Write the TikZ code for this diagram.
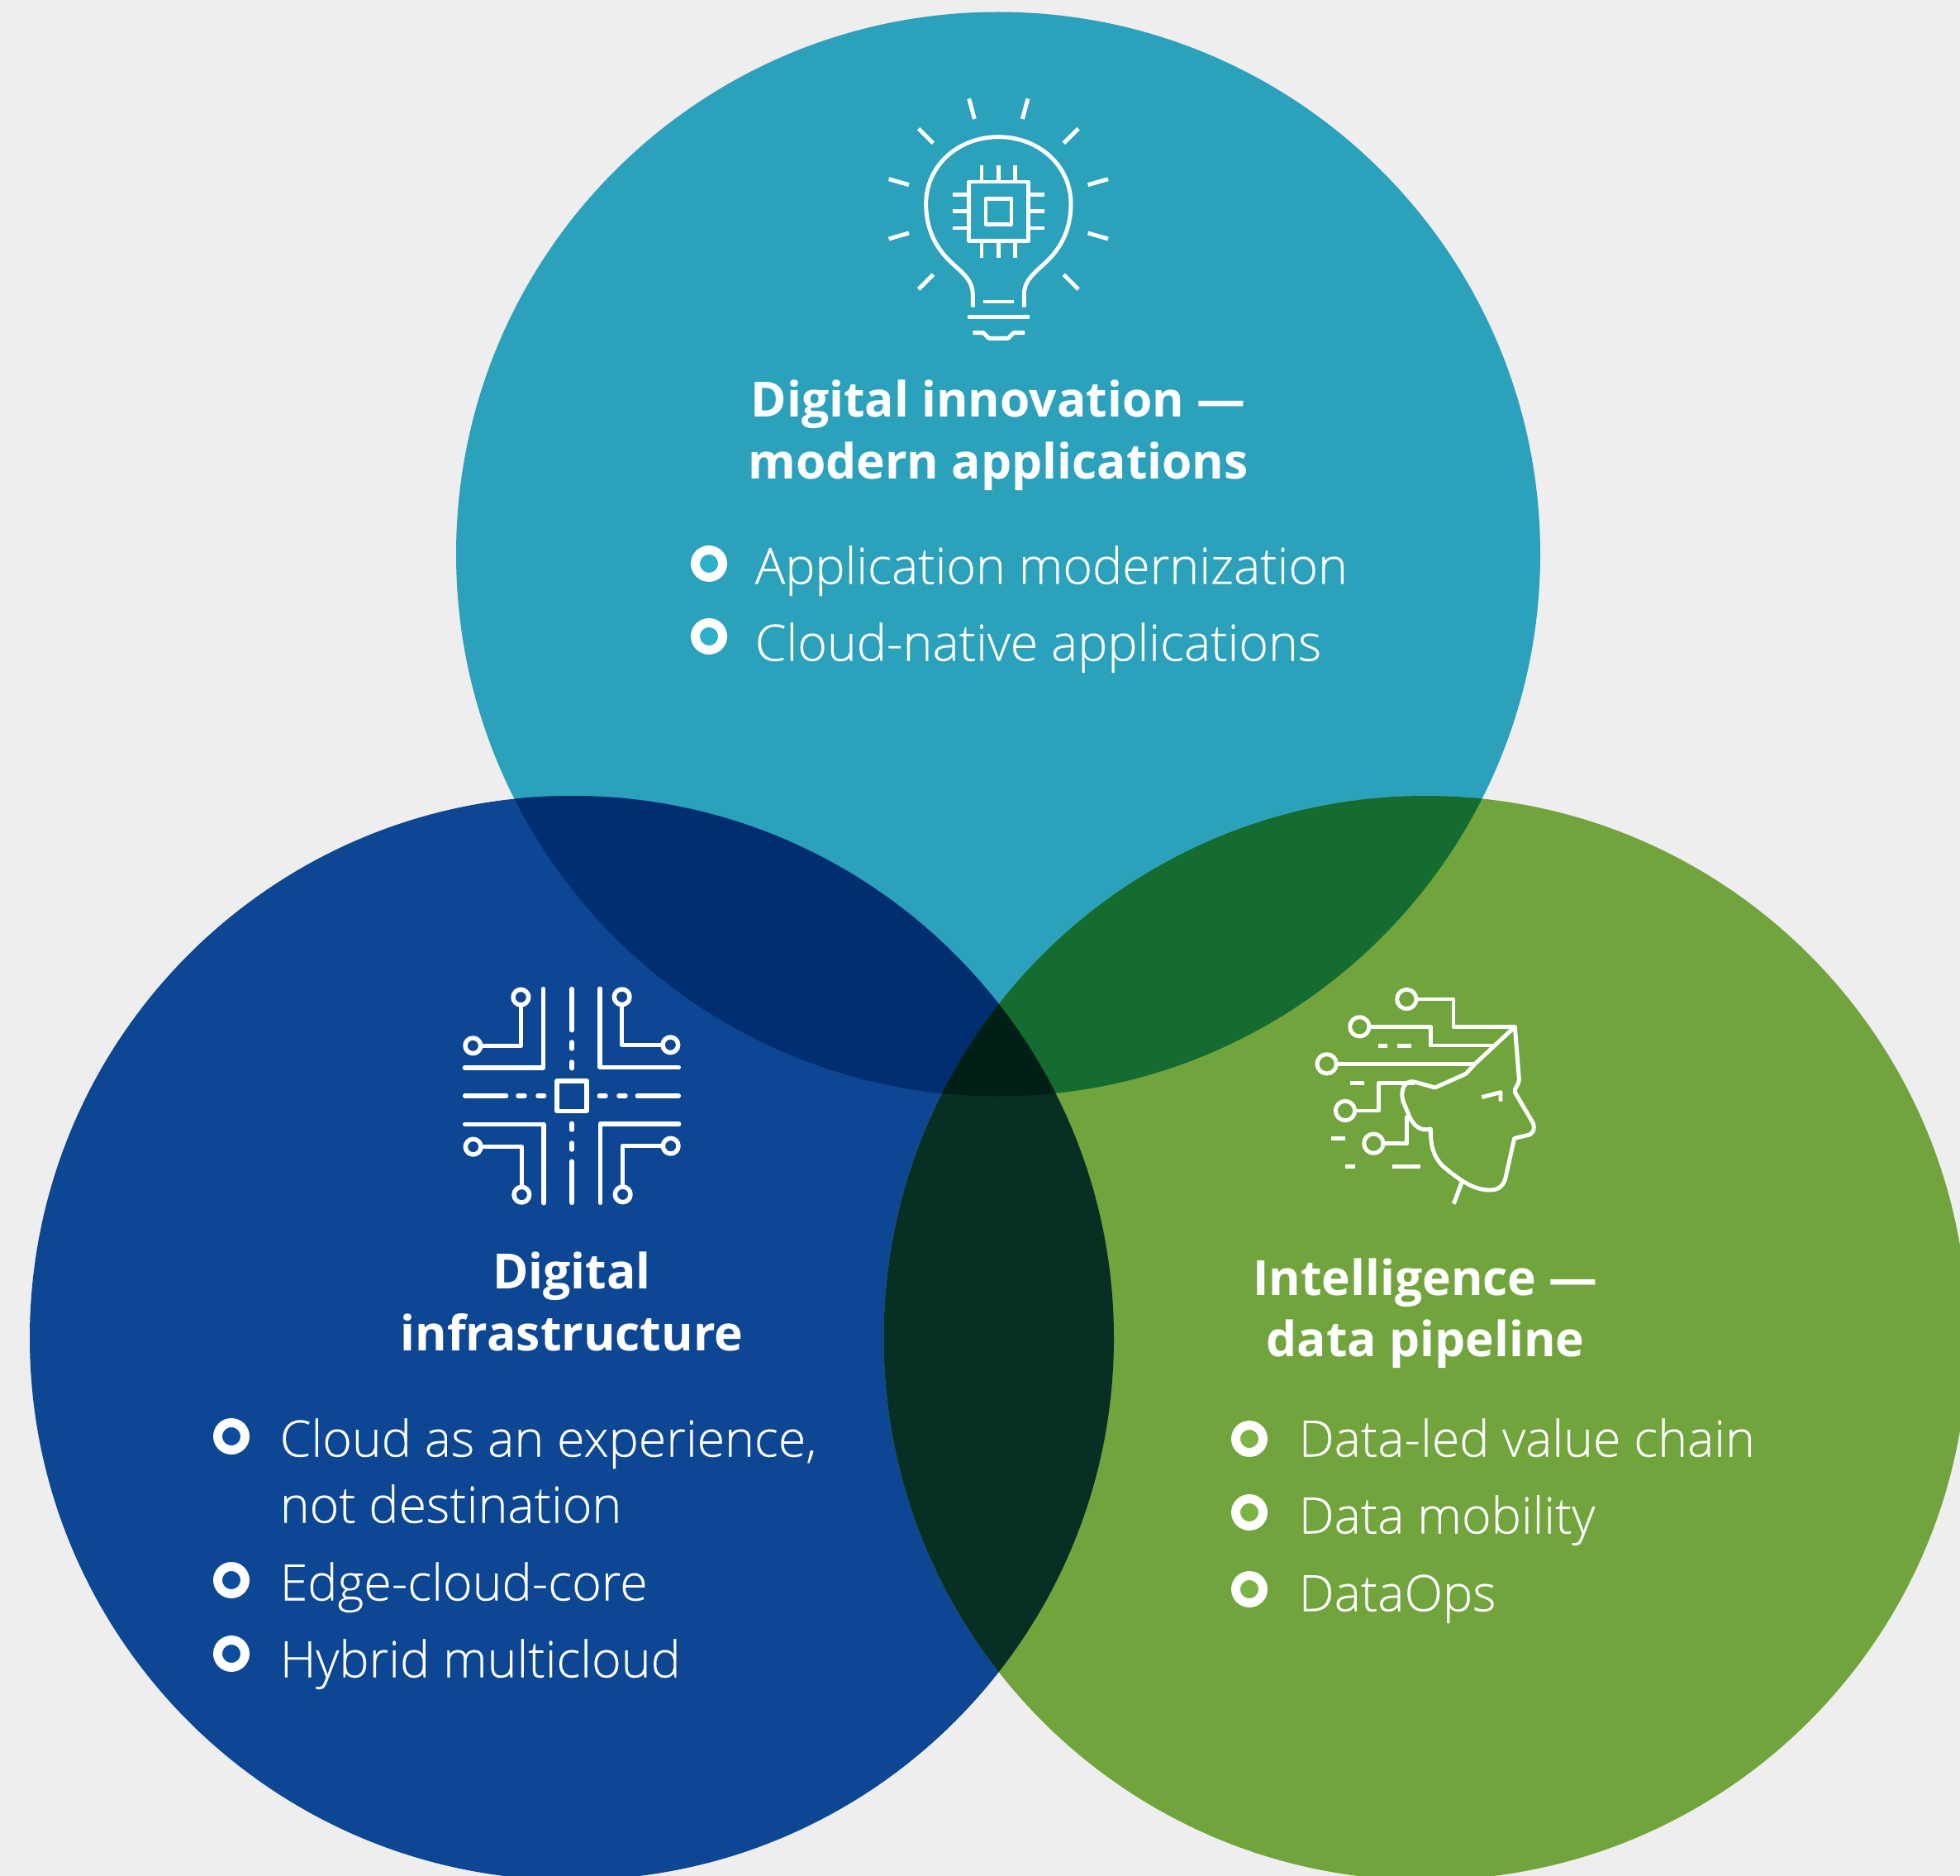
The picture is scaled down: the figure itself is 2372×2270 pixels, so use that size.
\documentclass[tikz,border=0pt]{standalone}
\usepackage{fontspec}
\setmainfont{Open Sans}
\newfontfamily\lightfont[FakeBold=0.25]{Open Sans Light}
\definecolor{pagegray}{HTML}{EEEEEE}
\definecolor{topteal}{HTML}{2CA1BB}
\definecolor{leftblue}{HTML}{0D4693}
\definecolor{rightgreen}{HTML}{71A43D}
\definecolor{tealblue}{HTML}{012E70}
\definecolor{tealgreen}{HTML}{146C30}
\definecolor{bluegreen}{HTML}{072F24}
\definecolor{allthree}{HTML}{021F17}
\definecolor{tealdot}{HTML}{2DB0C8}
\definecolor{bluedot}{HTML}{0D4D9F}
\definecolor{greendot}{HTML}{7DB344}
\def\topcirc{(1208,670.5) circle (656)}
\def\leftcirc{(692,1619) circle (656)}
\def\rightcirc{(1725.5,1619) circle (656)}
\begin{document}
\begin{tikzpicture}[x=0.01cm,y=-0.01cm]
	
	\tikzstyle{heading}=[font=\fontsize{16.7}{19}\selectfont\bfseries,text=white,anchor=base,inner sep=0pt]
	\tikzstyle{item}=[font=\fontsize{17.3}{19}\selectfont\lightfont,text=white,anchor=base west,inner sep=0pt]
	\tikzstyle{iconline}=[draw=white,line width=1.4pt,line join=round]
	\tikzstyle{iconround}=[draw=white,line width=1.55pt,line cap=round,line join=round]
	
	\useasboundingbox (0,0) rectangle (2372,2270);
	\clip (0,0) rectangle (2372,2270);
	\fill[pagegray] (0,0) rectangle (2372,2270);
	
	\fill[topteal] \topcirc;
	\fill[leftblue] \leftcirc;
	\fill[rightgreen] \rightcirc;
	
	\begin{scope}
	\clip \topcirc;
	\fill[tealblue] \leftcirc;
	\fill[tealgreen] \rightcirc;
	\end{scope}
	
	\begin{scope}
	\clip \leftcirc;
	\fill[bluegreen] \rightcirc;
	\clip \rightcirc;
	\fill[allthree] \topcirc;
	\end{scope}
	
	% bulb
	\begin{scope}[shift={(1040,100)},scale=1/3]
	\draw[iconline] (412,815) -- (412,770) .. controls (412,725) and (385,700) .. (355,672)
		.. controls (325,645) and (242,580) .. (242,440)
		.. controls (242,300) and (360,197) .. (505,197)
		.. controls (650,197) and (768,300) .. (768,440)
		.. controls (768,580) and (685,645) .. (655,672)
		.. controls (625,700) and (598,725) .. (598,770) -- (598,815);
	\draw[iconline] (398,360) rectangle (613,575);
	\draw[iconline] (459,421) rectangle (552,514);
	\foreach \p in {444,505,566} {
		\draw[iconline] (\p,300) -- (\p,360);
		\draw[iconline] (\p,575) -- (\p,635);
	}
	\foreach \p in {406,467,528} {
		\draw[iconline] (338,\p) -- (398,\p);
		\draw[iconline] (613,\p) -- (673,\p);
	}
	\draw[iconline] (450,795) -- (561,795);
	\draw[iconline] (393,851) -- (617,851);
	\draw[iconline] (412,908) -- (450,908) -- (470,928) -- (540,928) -- (560,908) -- (600,908);
	\foreach \xa/\ya/\xb/\yb in {398/58/418/132,612/58/592/132,215/167/268/220,795/167/742/220,107/350/180/371,903/350/830/371,107/567/180/546,903/567/830/546,215/750/268/697,795/750/742/697} {
		\draw[iconline] (\xa,\ya) -- (\xb,\yb);
	}
	\end{scope}
	
	% circuit
	\begin{scope}[shift={(540,1180)},scale=1/3]
	\foreach \a in {0,90,180,270} {
		\begin{scope}[shift={(456,438)},rotate=\a]
		\draw[iconround] (-185,-358) circle (28);
		\draw[iconround] (-359,-182) circle (28);
		\draw[iconround] (-185,-330) -- (-185,-182) -- (-331,-182);
		\draw[iconround] (-103,-388) -- (-103,-102) -- (-389,-102);
		\end{scope}
		\begin{scope}[shift={(456,438)},rotate=\a]
		\draw[iconround] (0,-388) -- (0,-238);
		\draw[iconround] (0,-195) -- (0,-171);
		\draw[iconround] (0,-123) -- (0,-100);
		\end{scope}
	}
	\draw[iconround] (402,384) rectangle (510,493);
	\end{scope}
	
	% head
	\begin{scope}[shift={(1570,1180)},scale=1/3]
	\draw[iconline] (790,187) -- (805,375) .. controls (806,400) and (785,410) .. (790,425)
		-- (855,535) .. controls (865,560) and (855,575) .. (840,580)
		-- (788,592) -- (755,740) .. controls (745,770) and (725,780) .. (700,780)
		.. controls (640,780) and (590,745) .. (525,690)
		.. controls (495,655) and (484,625) .. (484,558)
		.. controls (445,568) and (425,545) .. (410,520)
		-- (385,460) .. controls (370,410) and (395,380) .. (425,387)
		-- (500,408) -- (612,358) -- (645,322) -- cycle;
	\draw[iconline] (670,443) -- (738,425) -- (738,458);
	\draw[iconline] (597,752) -- (568,830);
	\foreach \xc/\yc in {397/87,226/187,107/322,174/492,277/611} {
		\draw[iconline] (\xc,\yc) circle (35);
	}
	\draw[iconline] (432,87) -- (567,87) -- (567,187) -- (790,187);
	\draw[iconline] (261,187) -- (484,187) -- (484,255) -- (720,255);
	\draw[iconline] (142,322) -- (648,322);
	\draw[iconline] (209,492) -- (295,492) -- (295,392) -- (425,392);
	\draw[iconline] (312,611) -- (398,611) -- (398,510);
	\foreach \xa/\xb/\yc in {295/328/256,363/414/256,192/243/391,124/175/593,175/210/695,346/448/695} {
		\draw[iconline] (\xa,\yc) -- (\xb,\yc);
	}
	\end{scope}
	
	\node[heading] (topone) at (1208,505) {Digital innovation —};
	\node[heading] (toptwo) at (1208,580) {modern applications};
	\node[heading] (leftone) at (692,1559) {Digital};
	\node[heading] (lefttwo) at (692,1634) {infrastructure};
	\node[heading] (rightone) at (1725,1567) {Intelligence —};
	\node[heading] (righttwo) at (1725,1641) {data pipeline};
	
	\node[item] (topa) at (913,706.5) {Application modernization};
	\node[item] (topb) at (913,799.5) {Cloud-native applications};
	\node[item] (lefta) at (338,1762.5) {Cloud as an experience,};
	\node[item] (leftb) at (338,1842.5) {not destination};
	\node[item] (leftc) at (338,1936.5) {Edge-cloud-core};
	\node[item] (leftd) at (338,2029.5) {Hybrid multicloud};
	\node[item] (righta) at (1571,1762.5) {Data-led value chain};
	\node[item] (rightb) at (1571,1855.5) {Data mobility};
	\node[item] (rightc) at (1571,1949.5) {DataOps};
	
	\foreach \xd/\yd/\cd in {858/682/tealdot,858/770/tealdot,280/1738/bluedot,280/1912/bluedot,280/2001/bluedot,1512/1741/greendot,1512/1830/greendot,1512/1923/greendot} {
		\draw[white,line width=3.1pt,fill=\cd] (\xd,\yd) circle (16.5);
	}
	
\end{tikzpicture}
\end{document}
